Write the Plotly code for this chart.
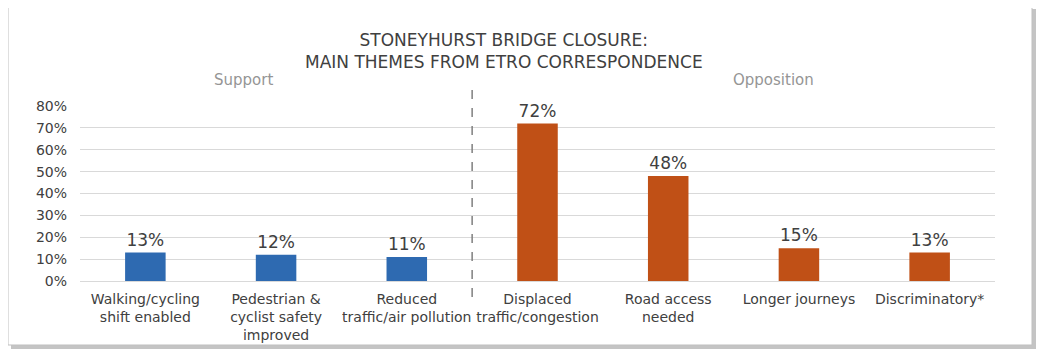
import plotly.graph_objects as go

categories = [
    "Walking/cycling<br>shift enabled",
    "Pedestrian &<br>cyclist safety<br>improved",
    "Reduced<br>traffic/air pollution",
    "Displaced<br>traffic/congestion",
    "Road access<br>needed",
    "Longer journeys",
    "Discriminatory*",
]
values = [0.13, 0.12, 0.11, 0.72, 0.48, 0.15, 0.13]
groups = ["Support", "Support", "Support", "Opposition", "Opposition", "Opposition", "Opposition"]
group_colors = {"Support": "#2E6AB1", "Opposition": "#C05016"}
y_ticks = [0, 0.1, 0.2, 0.3, 0.4, 0.5, 0.6, 0.7, 0.8]

OFF = 8  # page body margin
W, H = 1044 - OFF, 357 - OFF
# plot area in reference page pixels
PX0, PX1, PY0, PY1 = 80, 995, 106, 281
L, R, T, B = PX0 - OFF, W - (PX1 - OFF), PY0 - OFF, H - (PY1 - OFF)
pw, ph = W - L - R, H - T - B

def px(x):
    return (x - OFF - L) / pw

def py(y):
    return (H - B - (y - OFF)) / ph

FONT = "'DejaVu Sans', sans-serif"
TXT = "#404040"

fig = go.Figure(go.Bar(
    x=list(range(len(categories))),
    y=values,
    marker=dict(color=[group_colors[g] for g in groups], line=dict(width=0)),
    width=0.31,
    text=[f"{v:.0%}" for v in values],
    textposition="outside",
    textfont=dict(size=17, color=TXT, family=FONT),
    cliponaxis=False,
))

shapes = [
    dict(type="rect", xref="paper", yref="paper", x0=px(11), x1=px(1036), y0=py(9), y1=py(349),
         line=dict(width=0), fillcolor="#C4C4C4", layer="below"),
    dict(type="rect", xref="paper", yref="paper", x0=px(8), x1=px(1032), y0=py(6), y1=py(345),
         line=dict(color="#BFBFBF", width=1), fillcolor="white", layer="below"),
    dict(type="line", xref="x", yref="paper", x0=2.5, x1=2.5, y0=py(297), y1=py(88),
         line=dict(color="#7F7F7F", width=1.5, dash="dash")),
]

annotations = [
    dict(text="STONEYHURST BRIDGE CLOSURE:<br>MAIN THEMES FROM ETRO CORRESPONDENCE",
         xref="paper", yref="paper", x=px(504), y=py(51), showarrow=False,
         font=dict(size=17, color=TXT, family=FONT), xanchor="center", yanchor="middle"),
    dict(text="Support", xref="paper", yref="paper", x=px(243), y=py(80), showarrow=False,
         font=dict(size=15, color="#959595", family=FONT), xanchor="center", yanchor="middle"),
    dict(text="Opposition", xref="paper", yref="paper", x=px(773), y=py(80), showarrow=False,
         font=dict(size=15, color="#959595", family=FONT), xanchor="center", yanchor="middle"),
]

fig.update_layout(
    width=W, height=H,
    margin=dict(l=L, r=R, t=T, b=B, pad=0),
    paper_bgcolor="white", plot_bgcolor="rgba(0,0,0,0)",
    showlegend=False,
    shapes=shapes,
    annotations=annotations,
    font=dict(family=FONT, color=TXT),
    xaxis=dict(
        tickmode="array", tickvals=list(range(len(categories))), ticktext=categories,
        range=[-0.5, len(categories) - 0.5],
        showgrid=False, zeroline=False, showline=False, ticks="",
        ticklabelstandoff=8,
        tickfont=dict(size=14, color=TXT, family=FONT),
    ),
    yaxis=dict(
        range=[0, 0.8], tickvals=y_ticks, tickformat=".0%",
        showgrid=True, gridcolor="#D9D9D9", gridwidth=1,
        zeroline=True, zerolinecolor="#D9D9D9", zerolinewidth=1,
        showline=False, ticks="", ticklabelstandoff=12,
        tickfont=dict(size=14, color=TXT, family=FONT),
    ),
)

fig.write_html("out.html")
